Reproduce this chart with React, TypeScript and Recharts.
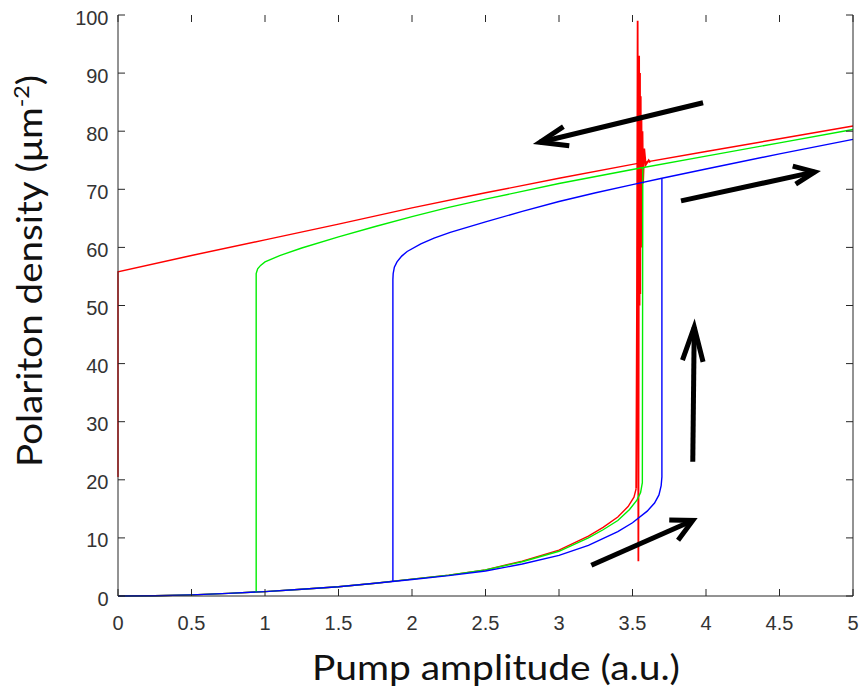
import React from 'react';
import { LineChart, Line, XAxis, YAxis } from 'recharts';

// pump amplitude ticks / density ticks
const X_TICKS = [0, 0.5, 1, 1.5, 2, 2.5, 3, 3.5, 4, 4.5, 5];
const Y_TICKS = [0, 10, 20, 30, 40, 50, 60, 70, 80, 90, 100];

// forward sweep (lower branch + jump)
const redUp: [number, number][] = [
  [0, 0], [0.25, 0.05], [0.5, 0.2], [0.75, 0.45], [1, 0.75], [1.25, 1.15], [1.5, 1.6],
  [1.75, 2.2], [2, 2.9], [2.25, 3.6], [2.5, 4.5], [2.75, 6.0], [3, 7.9], [3.2, 10.3],
  [3.3, 11.8], [3.4, 13.6], [3.47, 15.4], [3.51, 17.0], [3.525, 18.5],
];
// the noisy jump of the red curve
const redBurst: [number, number][] = [
  [3.525, 18.5], [3.53, 48], [3.535, 99], [3.54, 6], [3.545, 93], [3.548, 50],
  [3.551, 90], [3.553, 52], [3.556, 86], [3.558, 60], [3.561, 82], [3.564, 66],
  [3.568, 80], [3.572, 71], [3.58, 77], [3.59, 74.2], [3.61, 75], [3.62, 74.6],
];
const greenUp: [number, number][] = [
  [0, 0], [0.25, 0.05], [0.5, 0.2], [0.75, 0.45], [1, 0.75], [1.25, 1.15], [1.5, 1.6],
  [1.75, 2.2], [2, 2.9], [2.25, 3.6], [2.5, 4.5], [2.75, 5.9], [3, 7.7], [3.2, 10.0],
  [3.3, 11.4], [3.4, 13.0], [3.48, 14.9], [3.53, 16.5], [3.555, 17.8], [3.567, 19.5],
  [3.57, 73.7],
];
const blueUp: [number, number][] = [
  [0, 0], [0.25, 0.05], [0.5, 0.2], [0.75, 0.45], [1, 0.75], [1.25, 1.15], [1.5, 1.6],
  [1.75, 2.2], [2, 2.85], [2.25, 3.5], [2.5, 4.3], [2.75, 5.5], [3, 7.0], [3.2, 8.7],
  [3.4, 11.1], [3.5, 12.6], [3.6, 14.6], [3.65, 16.0], [3.68, 17.4], [3.695, 19.0],
  [3.7, 20.5], [3.7, 71.8],
];

// backward sweep (upper branch + drop)
const redDown: [number, number][] = [
  [5, 80.9], [4.5, 78.7], [4, 76.5], [3.5, 74.3], [3, 71.9], [2.5, 69.4], [2, 66.8],
  [1.5, 64.0], [1, 61.3], [0.5, 58.6], [0, 55.8], [0, 20.5],
];
const greenDown: [number, number][] = [
  [5, 80.3], [4.5, 78.0], [4, 75.7], [3.5, 73.4], [3, 71.0], [2.5, 68.3], [2.25, 66.9],
  [2, 65.3], [1.75, 63.6], [1.5, 61.8], [1.25, 59.9], [1.1, 58.6], [1.0, 57.5],
  [0.97, 56.9], [0.95, 56.3], [0.94, 55.5], [0.94, 0.7],
];
const blueDown: [number, number][] = [
  [5, 78.6], [4.5, 76.1], [4, 73.5], [3.7, 71.9], [3.5, 70.8], [3.25, 69.4], [3, 67.9],
  [2.75, 66.2], [2.5, 64.4], [2.26, 62.6], [2.15, 61.6], [2.06, 60.6], [1.967, 59.3],
  [1.93, 58.5], [1.898, 57.5], [1.88, 56.6], [1.872, 55.5], [1.87, 54.5], [1.87, 2.5],
];

// hand drawn arrows: shaft then head (arm, tip, arm)
const arrowLeftShaft: [number, number][] = [[3.98, 84.9], [2.87, 78.1]];
const arrowLeftHead: [number, number][] = [[3.03, 80.8], [2.87, 78.1], [3.07, 77.5]];
const arrowRightShaft: [number, number][] = [[3.83, 68.0], [4.74, 73.0]];
const arrowRightHead: [number, number][] = [[4.59, 74.0], [4.74, 73.0], [4.61, 70.9]];
const arrowUpShaft: [number, number][] = [[3.91, 23.1], [3.92, 46.3]];
const arrowUpHead: [number, number][] = [[3.84, 40.6], [3.92, 46.3], [3.98, 40.3]];
const arrowLowShaft: [number, number][] = [[3.22, 5.3], [3.91, 13.0]];
const arrowLowHead: [number, number][] = [[3.75, 13.1], [3.91, 13.0], [3.81, 9.6]];

const W = 861;
const H = 693;
const PLOT_TOP = 15;
const PLOT_BOTTOM = 596;
const PLOT_LEFT = 118;
const PLOT_RIGHT = 853;
const TICK_LEN = 7;
const AXIS_COLOR = '#262626';
const TICK_FONT = '"Liberation Sans", Arial, sans-serif';
const LABEL_FONT = 'Lato, "Open Sans", sans-serif';

const toPts = (arr: [number, number][]) => arr.map(([x, y]) => ({ x, y }));

const XTick = (props: any) => {
  const { x, y, payload } = props;
  return (
    <g>
      <line x1={x} x2={x} y1={y} y2={y - TICK_LEN} stroke={AXIS_COLOR} strokeWidth={1} />
      <line x1={x} x2={x} y1={PLOT_TOP} y2={PLOT_TOP + TICK_LEN} stroke={AXIS_COLOR} strokeWidth={1} />
      <text x={x} y={y + 34} textAnchor="middle" fontFamily={TICK_FONT} fontSize={20} fill="#333">
        {payload.value}
      </text>
    </g>
  );
};

const YTick = (props: any) => {
  const { x, y, payload } = props;
  return (
    <g>
      <line x1={x} x2={x + TICK_LEN} y1={y} y2={y} stroke={AXIS_COLOR} strokeWidth={1} />
      <line x1={PLOT_RIGHT} x2={PLOT_RIGHT - TICK_LEN} y1={y} y2={y} stroke={AXIS_COLOR} strokeWidth={1} />
      <text x={x - 9.5} y={y + 9.5} textAnchor="end" fontFamily={TICK_FONT} fontSize={20} fill="#333">
        {payload.value}
      </text>
    </g>
  );
};

const curve = (key: string, data: [number, number][], color: string, width = 1.4) => (
  <Line
    key={key}
    data={toPts(data)}
    dataKey="y"
    type="linear"
    stroke={color}
    strokeWidth={width}
    dot={false}
    activeDot={false}
    isAnimationActive={false}
    xAxisId="b"
    yAxisId="l"
  />
);

const arrow = (key: string, data: [number, number][]) => (
  <Line
    key={key}
    data={toPts(data)}
    dataKey="y"
    type="linear"
    stroke="#000"
    strokeWidth={5}
    strokeLinejoin="miter"
    dot={false}
    activeDot={false}
    isAnimationActive={false}
    xAxisId="b"
    yAxisId="l"
  />
);

export default function App() {
  const yLabelCx = 42;
  const yLabelCy = 271;
  return (
    <div style={{ position: 'absolute', left: 0, top: 0, background: '#fff' }}>
      <LineChart width={W} height={H} margin={{ top: PLOT_TOP, right: 0, bottom: 0, left: 0 }}>
        <XAxis
          xAxisId="b"
          type="number"
          dataKey="x"
          domain={[0, 5]}
          ticks={X_TICKS}
          height={H - PLOT_BOTTOM}
          tickSize={0}
          tickMargin={0}
          tickLine={false}
          tick={<XTick />}
          axisLine={{ stroke: AXIS_COLOR, strokeWidth: 1 }}
        />
        <XAxis
          xAxisId="t"
          orientation="top"
          type="number"
          domain={[0, 5]}
          height={0}
          tick={false}
          tickLine={false}
          axisLine={{ stroke: AXIS_COLOR, strokeWidth: 1 }}
        />
        <YAxis
          yAxisId="l"
          type="number"
          domain={[0, 100]}
          ticks={Y_TICKS}
          width={PLOT_LEFT}
          tickSize={0}
          tickMargin={0}
          tickLine={false}
          tick={<YTick />}
          axisLine={{ stroke: AXIS_COLOR, strokeWidth: 1 }}
        />
        <YAxis
          yAxisId="r"
          orientation="right"
          type="number"
          domain={[0, 100]}
          width={W - PLOT_RIGHT}
          tick={false}
          tickLine={false}
          axisLine={{ stroke: AXIS_COLOR, strokeWidth: 1 }}
        />
        {curve('redDown', redDown, '#ff0000')}
        {curve('redUp', redUp, '#ff0000')}
        {curve('redBurst', redBurst, '#ff0000', 1.8)}
        {curve('greenDown', greenDown, '#00ee00')}
        {curve('greenUp', greenUp, '#00ee00')}
        {curve('blueDown', blueDown, '#0000ff')}
        {curve('blueUp', blueUp, '#0000ff')}
        {arrow('a1', arrowLeftShaft)}
        {arrow('a2', arrowLeftHead)}
        {arrow('a3', arrowRightShaft)}
        {arrow('a4', arrowRightHead)}
        {arrow('a5', arrowUpShaft)}
        {arrow('a6', arrowUpHead)}
        {arrow('a7', arrowLowShaft)}
        {arrow('a8', arrowLowHead)}
        <text
          x={496}
          y={680}
          textAnchor="middle"
          fontFamily={LABEL_FONT}
          fontSize={34}
          fill="#111"
          textLength={368}
          lengthAdjust="spacingAndGlyphs"
        >
          Pump amplitude (a.u.)
        </text>
        <text
          x={yLabelCx}
          y={yLabelCy}
          transform={`rotate(-90, ${yLabelCx}, ${yLabelCy})`}
          textAnchor="middle"
          fontFamily={LABEL_FONT}
          fontSize={35}
          fill="#111"
          textLength={392}
          lengthAdjust="spacingAndGlyphs"
        >
          Polariton density (μm
          <tspan dy={-13} fontSize={21}>-2</tspan>
          <tspan dy={13}>)</tspan>
        </text>
      </LineChart>
    </div>
  );
}
